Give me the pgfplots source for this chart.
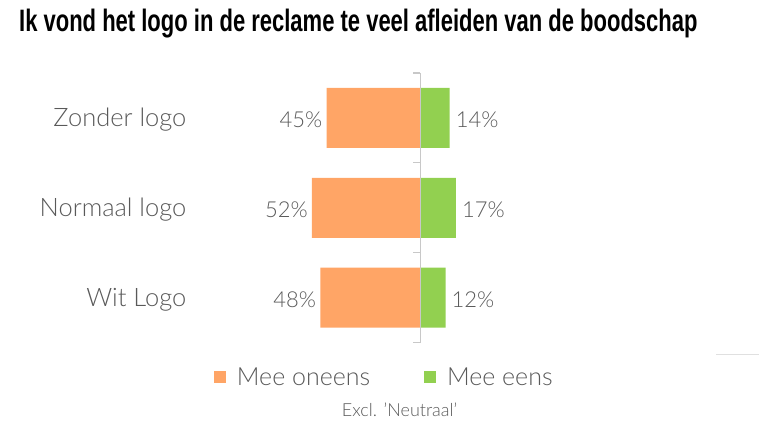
\documentclass[border=0pt]{standalone}
\usepackage{pgfplots}
\pgfplotsset{compat=1.18}
\usepackage{graphicx}
\usepackage{fontspec}
\setmainfont{Lato Light}
\newfontfamily\titlefont{Liberation Sans}

\definecolor{orng}{HTML}{FFA566}
\definecolor{grn}{HTML}{92D050}
\definecolor{txt}{HTML}{595959}
\definecolor{axl}{HTML}{C8C8C8}

\begin{document}
\begin{tikzpicture}[x=1pt,y=1pt]
\path (0,0) rectangle (760,427);
% title, condensed by horizontal scaling
\node[anchor=base west, inner sep=0pt, font=\titlefont\bfseries\fontsize{31}{33}\selectfont]
  at (19,395) {\resizebox{679pt}{\height}{Ik vond het logo in de reclame te veel afleiden van de boodschap}};

\begin{axis}[
  at={(190pt,354pt)}, anchor=north west,
  scale only axis, width=293.6pt, height=270pt,
  xmin=-110.5, xmax=30, ymin=-0.5, ymax=2.5, y dir=reverse,
  axis line style={draw=none}, tick style={draw=none},
  xtick=\empty,
  ytick={0,1,2}, yticklabels={Zonder logo,Normaal logo,Wit Logo},
  yticklabel style={anchor=base east, inner sep=0pt, xshift=1pt, yshift=-9pt,
    font=\fontsize{25.5}{27}\selectfont, text=txt},
  xbar, bar width=60pt, bar shift=0pt,
  clip=false,
  point meta=explicit,
  nodes near coords={\pgfmathprintnumber[assume math mode=true]{\pgfplotspointmeta}\%},
  legend style={at={(axis description cs:0,0)}, anchor=north west,
    xshift=21pt, yshift=-21pt, draw=none, fill=none,
    legend columns=2, font=\fontsize{25}{27}\selectfont, text=txt,
    /tikz/every odd column/.append style={column sep=9pt},
    /tikz/every even column/.append style={column sep=52pt}},
]
\addplot[fill=orng, draw=none,
  legend image code/.code={\fill[orng] (0pt,-6pt) rectangle (12pt,6pt);},
  nodes near coords style={anchor=base east, inner sep=0pt, xshift=-4pt, yshift=-10pt,
    font=\fontsize{22}{24}\selectfont, text=txt}]
  coordinates {(-45,0) [45] (-52,1) [52] (-48,2) [48]};
\addlegendentry{Mee oneens}
\addplot[fill=grn, draw=none,
  legend image code/.code={\fill[grn] (0pt,-6pt) rectangle (12pt,6pt);},
  nodes near coords style={anchor=base west, inner sep=0pt, xshift=6pt, yshift=-10pt,
    font=\fontsize{22}{24}\selectfont, text=txt}]
  coordinates {(14,0) [14] (17,1) [17] (12,2) [12]};
\addlegendentry{Mee eens}
% zero line with boundary ticks
\draw[axl, line width=1.2pt] (axis cs:0,-0.5) -- (axis cs:0,2.5);
\pgfplotsinvokeforeach{-0.5,0.5,1.5,2.5}{
  \draw[axl, line width=1.2pt] (axis cs:0,#1) -- ++(-8pt,0pt);
}
\end{axis}

\node[font=\fontsize{18}{20}\selectfont, text=txt] at (400,17) {Excl. 'Neutraal'};
\draw[black!12, line width=1.5pt] (717,72) -- (760,72);
\end{tikzpicture}
\end{document}
